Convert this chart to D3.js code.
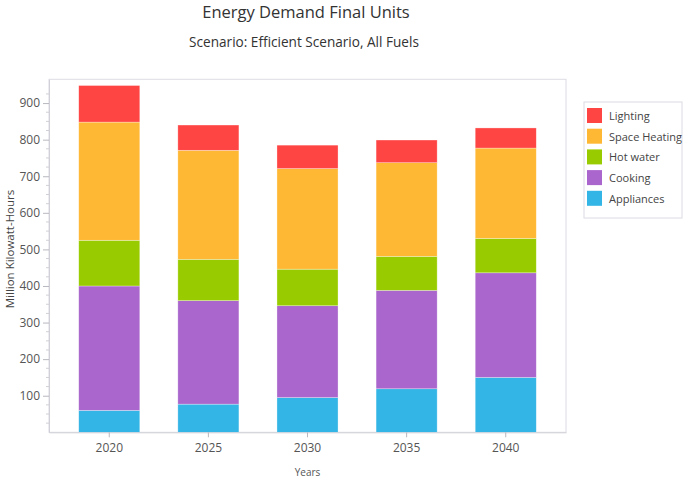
<!DOCTYPE html>
<html>
<head>
<meta charset="utf-8">
<script src="https://cdn.jsdelivr.net/npm/d3@7"></script>
<style>
  html, body { margin: 0; padding: 0; background: #fff; }
  svg { display: block; font-family: "Open Sans", "Noto Sans", sans-serif; }
</style>
</head>
<body>
<svg id="chart" width="685" height="478"></svg>
<script>
const years = ["2020", "2025", "2030", "2035", "2040"];
const seriesNames = ["Appliances", "Cooking", "Hot water", "Space Heating", "Lighting"];
const appliances = [60, 77, 95, 119, 150];
const cooking = [340, 283, 251, 269, 286];
const hotWater = [125, 113, 100, 93, 94];
const spaceHeating = [323, 298, 275, 256, 247];
const lighting = [100, 69, 64, 62, 55];
const seriesColors = ["#33b5e5", "#aa66cc", "#99cc00", "#ffb833", "#ff4444"];
const yTicks = [100, 200, 300, 400, 500, 600, 700, 800, 900];
const legendOrder = ["Lighting", "Space Heating", "Hot water", "Cooking", "Appliances"];

const seriesValues = [appliances, cooking, hotWater, spaceHeating, lighting];
const table = years.map((y, i) => {
  const row = { year: y };
  seriesNames.forEach((s, k) => row[s] = seriesValues[k][i]);
  return row;
});

const svg = d3.select("#chart");
const L = 49, R = 566, T = 79.3, B = 432.3;

const x = d3.scaleBand().domain(years).range([L, R]).paddingInner(0.384).paddingOuter(0.30);
const y = d3.scaleLinear().domain([0, 965]).range([B, T]);
const color = d3.scaleOrdinal().domain(seriesNames).range(seriesColors);

// frame
svg.append("rect").attr("x", L).attr("y", T).attr("width", R - L).attr("height", B - T)
  .attr("fill", "none").attr("stroke", "#dcdce4").attr("stroke-width", 1);

// bars
const stack = d3.stack().keys(seriesNames)(table);
svg.append("g").selectAll("g").data(stack).join("g")
  .attr("fill", d => color(d.key))
  .selectAll("rect").data(d => d).join("rect")
  .attr("x", d => x(d.data.year))
  .attr("width", x.bandwidth())
  .attr("y", d => y(d[1]))
  .attr("height", d => y(d[0]) - y(d[1]))
  .attr("stroke", "rgba(255,255,255,0.5)").attr("stroke-width", 0.6);

// minor ticks
const minor = d3.range(25, 950, 25).filter(v => v % 100 !== 0);
svg.append("g").selectAll("line").data(minor).join("line")
  .attr("x1", L - 3).attr("x2", L).attr("y1", d => y(d)).attr("y2", d => y(d))
  .attr("stroke", "#d0d0d8").attr("stroke-width", 1);

// y axis
const yAxis = svg.append("g").attr("transform", `translate(${L},0)`)
  .call(d3.axisLeft(y).tickValues(yTicks).tickSize(6).tickSizeOuter(0).tickPadding(3));
yAxis.select(".domain").attr("stroke", "#d0d0d8");
yAxis.selectAll(".tick line").attr("stroke", "#b8b8c0");
yAxis.selectAll(".tick text").attr("fill", "#555").style("font-size", "12px")
  .style("font-family", "'Open Sans', sans-serif");

// x axis
const xAxis = svg.append("g").attr("transform", `translate(0,${B})`)
  .call(d3.axisBottom(x).tickSize(5).tickSizeOuter(0).tickPadding(6));
xAxis.select(".domain").attr("stroke", "#d0d0d8");
xAxis.selectAll(".tick line").attr("stroke", "#b8b8c0");
xAxis.selectAll(".tick text").attr("fill", "#555").style("font-size", "12px")
  .style("font-family", "'Open Sans', sans-serif");

// axis titles
svg.append("text").attr("x", (L + R) / 2).attr("y", 475.5).attr("text-anchor", "middle")
  .attr("fill", "#555").style("font-size", "10px").text("Years");
svg.append("text").attr("transform", `translate(14,249) rotate(-90)`)
  .attr("text-anchor", "middle").attr("fill", "#444").style("font-size", "11.5px")
  .text("Million Kilowatt-Hours");

// titles
svg.append("text").attr("x", 306).attr("y", 18).attr("text-anchor", "middle")
  .attr("fill", "#333").style("font-size", "16.5px").text("Energy Demand Final Units");
svg.append("text").attr("x", 304).attr("y", 47).attr("text-anchor", "middle")
  .attr("fill", "#333").style("font-size", "13.6px").text("Scenario: Efficient Scenario, All Fuels");

// legend
const lg = svg.append("g").attr("transform", "translate(584,102)");
lg.append("rect").attr("width", 98).attr("height", 116).attr("fill", "#fff")
  .attr("stroke", "#dcdce4");
const items = lg.selectAll("g").data(legendOrder).join("g")
  .attr("transform", (d, i) => `translate(3,${6 + i * 20.7})`);
items.append("rect").attr("width", 15).attr("height", 15).attr("fill", d => color(d));
items.append("text").attr("x", 22).attr("y", 12).attr("fill", "#444")
  .style("font-size", "11px").text(d => d);
</script>
</body>
</html>
